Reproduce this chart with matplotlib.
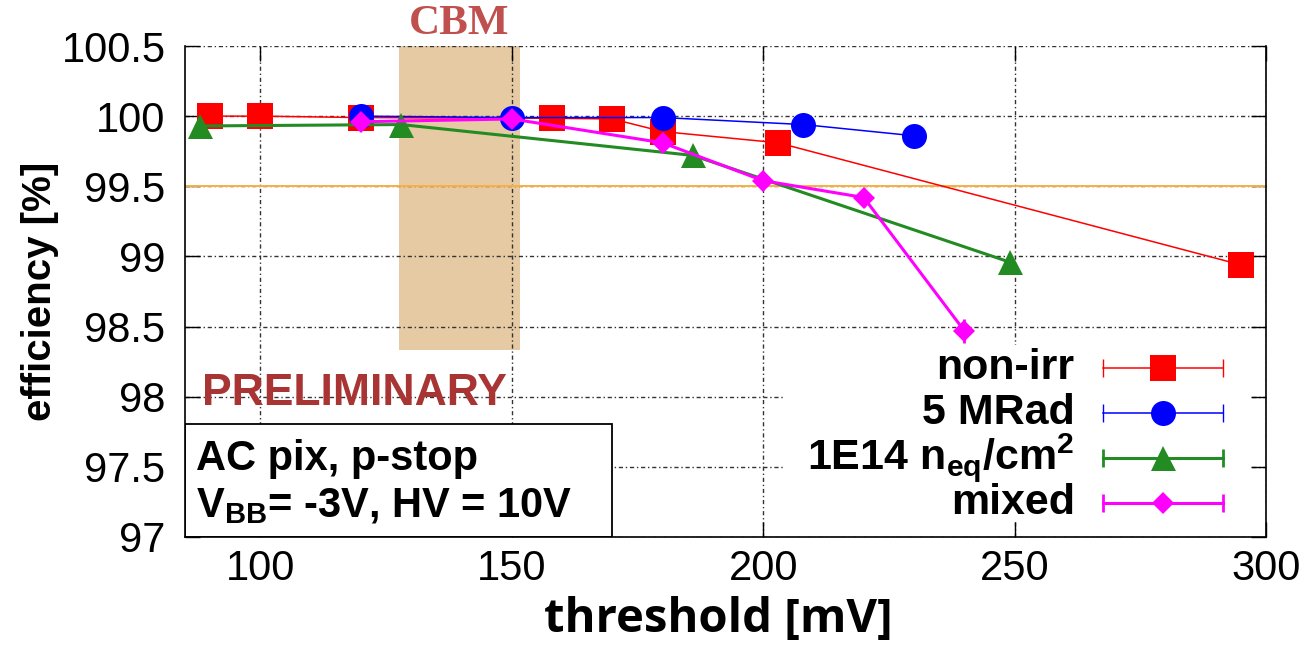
import matplotlib
matplotlib.use('Agg')
import matplotlib.pyplot as plt
from matplotlib.patches import Rectangle

plt.rcParams.update({
  'font.family': ['Liberation Sans', 'DejaVu Sans'],
  'mathtext.fontset': 'custom',
  'mathtext.rm': 'Liberation Sans',
  'mathtext.bf': 'Liberation Sans:bold',
  'mathtext.it': 'Liberation Sans:italic',
})

# threshold [mV] / efficiency [%] per irradiation
thr_nonirr = [90, 100, 120, 158, 170, 180, 203, 295]
eff_nonirr = [100.0, 100.0, 99.99, 99.985, 99.98, 99.89, 99.81, 98.94]
thr_mrad = [120, 150, 180, 208, 230]
eff_mrad = [100.0, 99.99, 99.99, 99.94, 99.86]
thr_neq = [88, 128, 186, 249]
eff_neq = [99.93, 99.94, 99.72, 98.96]
thr_mixed = [120, 150, 180, 200, 220, 240]
eff_mixed = [99.96, 99.98, 99.81, 99.54, 99.42, 98.47]
err_mixed = [0.02, 0.02, 0.04, 0.07, 0.07, 0.085]

labels = ['non-irr', '5 MRad', r'1E14 n$_{\mathbf{eq}}$/cm$^{\mathbf{2}}$', 'mixed']
colors = ['#ff0000', '#0000ff', '#228b22', '#ff00ff']
markers = ['s', 'o', '^', 'D']
msizes = [19, 18, 18, 11.5]
lwidths = [1.1, 1.1, 2.2, 2.2]

cbm_range = (127.5, 151.7)
target_eff = 99.5

fig = plt.figure(figsize=(13.1, 6.46), dpi=100)
ax = fig.add_axes([185/1310, 109/646, 1081/1310, 491/646])
ax.set_axisbelow(True)

series = [
  (thr_nonirr, eff_nonirr, None),
  (thr_mrad, eff_mrad, None),
  (thr_neq, eff_neq, None),
  (thr_mixed, eff_mixed, err_mixed),
]
for (x, y, err), c, m, ms, lw in zip(series, colors, markers, msizes, lwidths):
  ax.errorbar(x, y, yerr=err, color=c, lw=lw, marker=m, ms=ms, mew=0,
              capsize=4.7, capthick=2.2, elinewidth=2, zorder=3)

ax.axhline(target_eff, color='#fbb040', lw=1.4, zorder=2)
ax.axvspan(*cbm_range, ymin=0.381, ymax=1.0, color='#e6caa4', lw=0, zorder=0.3)
ax.text(sum(cbm_range)/2, 1.045, 'CBM', transform=ax.get_xaxis_transform(),
        ha='center', va='center', fontsize=31, fontweight='bold',
        family='Liberation Serif', color='#c0504d')

ax.set_xlim(85, 300)
ax.set_ylim(97, 100.5)
ax.set_xticks([100, 150, 200, 250, 300])
ax.set_yticks([97, 97.5, 98, 98.5, 99, 99.5, 100, 100.5])
ax.set_yticklabels(['%g' % v for v in ax.get_yticks()])
ax.tick_params(direction='in', length=11, width=1, labelsize=30,
               top=True, right=True, pad=9)
ax.tick_params(axis='y', pad=14)
ax.grid(True, color='#333333', lw=1, linestyle=(0, (3, 2, 1, 2)))
ax.spines['top'].set_visible(False)
for s in ['left', 'right', 'bottom']:
  ax.spines[s].set_linewidth(1.2)

# PRELIMINARY stamp and info box
ax.text(0.0157, 0.293, 'PRELIMINARY', transform=ax.transAxes, fontsize=32,
        fontweight='bold', color='#a83434', va='center', ha='left', zorder=2)
ax.add_patch(Rectangle((0, 0), 0.395, 0.23, transform=ax.transAxes,
                       facecolor='white', edgecolor='black', lw=1.3, zorder=1))
ax.text(0.0102, 0.136, 'AC pix, p-stop', transform=ax.transAxes, fontsize=30,
        fontweight='bold', va='baseline', ha='left', zorder=2)
ax.text(0.0102, 0.041, r'V$_{\mathbf{BB}}$= -3V, HV = 10V', transform=ax.transAxes,
        fontsize=30, fontweight='bold', va='baseline', ha='left', zorder=2)

# legend drawn by hand (gnuplot style: text then sample)
ax.add_patch(Rectangle((0.555, 0.035), 0.43, 0.356, transform=ax.transAxes,
                       facecolor='white', edgecolor='none', zorder=1))
rows = [0.344, 0.253, 0.161, 0.069]
for lab, c, m, ms, lw, yr in zip(labels, colors, markers, msizes, lwidths, rows):
  ax.text(0.823, yr, lab, transform=ax.transAxes, fontsize=31, fontweight='bold',
          ha='right', va='center', zorder=4)
  ax.plot([0.849, 0.960], [yr, yr], color=c, lw=lw, transform=ax.transAxes,
          marker='|', ms=13, mew=lw * 0.9, clip_on=False, zorder=4)
  ax.plot([0.905], [yr], color=c, marker=m, ms=ms, mew=0,
          transform=ax.transAxes, clip_on=False, zorder=5)

fig.text(40/1310, 1 - 291/646, 'efficiency [%]', rotation=90, fontsize=29,
         fontweight='bold', ha='center', va='center')
fig.text(718/1310, 1 - 620/646, 'threshold [mV]', fontsize=34, fontweight='bold',
         family='Open Sans', ha='center', va='center')

fig.savefig('out.png', dpi=100)
